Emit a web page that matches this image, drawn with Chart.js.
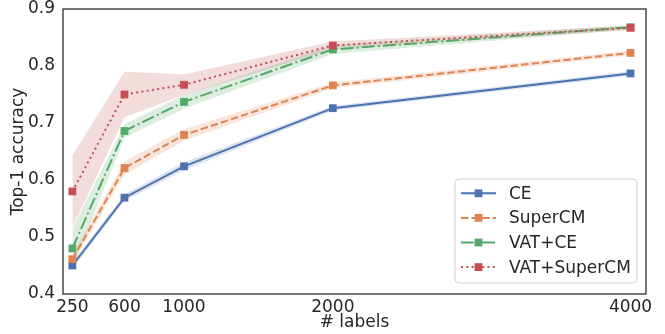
<!DOCTYPE html>
<html>
<head>
<meta charset="utf-8">
<script src="https://cdn.jsdelivr.net/npm/chart.js@4"></script>
<style>
  html, body { margin: 0; padding: 0; background: #fff; }
  #wrap { width: 665px; height: 334px; }
</style>
</head>
<body>
<div id="wrap"><canvas id="myChart" width="665" height="334"></canvas></div>
<script>
// datos
const labelsCount = [250, 600, 1000, 2000, 4000];
const xTicks = [250, 600, 1000, 2000, 4000];
const yTicks = [0.4, 0.5, 0.6, 0.7, 0.8, 0.9];

const seriesNames = ['CE', 'SuperCM', 'VAT+CE', 'VAT+SuperCM'];
const ceAcc = [0.450, 0.569, 0.624, 0.726, 0.787];
const superCmAcc = [0.461, 0.621, 0.679, 0.766, 0.823];
const vatCeAcc = [0.480, 0.686, 0.737, 0.829, 0.868];
const vatSuperCmAcc = [0.580, 0.750, 0.767, 0.836, 0.867];

// desviacion (media banda sombreada)
const ceStd = [0.006, 0.006, 0.007, 0.004, 0.004];
const superCmStd = [0.008, 0.012, 0.010, 0.005, 0.004];
const vatCeStd = [0.035, 0.012, 0.012, 0.008, 0.004];
const vatSuperCmStd = [0.063, 0.040, 0.018, 0.007, 0.004];

const means = [ceAcc, superCmAcc, vatCeAcc, vatSuperCmAcc];
const stds = [ceStd, superCmStd, vatCeStd, vatSuperCmStd];
const colors = ['#4C72B0', '#DD8452', '#55A868', '#C44E52'];
const bandColors = ['rgba(76,114,176,0.2)', 'rgba(221,132,82,0.2)', 'rgba(85,168,104,0.2)', 'rgba(196,78,82,0.2)'];
const dashes = [[], [7.4, 3.2], [12.8, 3.2, 2, 3.2], [2, 3.3]];

const TXT = '#262626';
const FONT = 'DejaVu Sans';
const FSIZE = 17;

const toPts = (ys) => labelsCount.map((x, i) => ({ x: x, y: ys[i] }));

const datasets = [];
// lineas principales
means.forEach((m, s) => {
    datasets.push({
        label: seriesNames[s],
        data: toPts(m),
        borderColor: colors[s],
        backgroundColor: colors[s],
        borderWidth: 2,
        borderDash: dashes[s],
        borderCapStyle: 'butt',
        pointStyle: 'rect',
        pointRadius: 5.5,
        pointBorderWidth: 0,
        pointBackgroundColor: colors[s],
        tension: 0,
        fill: false,
        order: 3 - s
    });
});
// bandas (superior + inferior)
means.forEach((m, s) => {
    const upIdx = datasets.length;
    datasets.push({
        label: '_up' + s,
        data: toPts(m.map((v, i) => v + stds[s][i])),
        borderWidth: 0,
        pointRadius: 0,
        backgroundColor: bandColors[s],
        fill: upIdx + 1,
        order: 10 + s
    });
    datasets.push({
        label: '_lo' + s,
        data: toPts(m.map((v, i) => v - stds[s][i])),
        borderWidth: 0,
        pointRadius: 0,
        backgroundColor: 'rgba(0,0,0,0)',
        fill: false,
        order: 10 + s
    });
});

// marco y leyenda dibujados a mano
const framePlugin = {
    id: 'frameLegend',
    afterDatasetsDraw(chart) {
        const { ctx, chartArea: a } = chart;
        ctx.save();
        ctx.strokeStyle = TXT;
        ctx.lineWidth = 1.25;
        ctx.strokeRect(a.left, a.top, a.right - a.left, a.bottom - a.top);
        ctx.restore();
    },
    afterDraw(chart) {
        const ctx = chart.ctx;
        ctx.save();
        const bx = 455, by = 179, bw = 182, bh = 104, r = 4;
        ctx.beginPath();
        ctx.roundRect(bx, by, bw, bh, r);
        ctx.fillStyle = 'rgba(255,255,255,0.8)';
        ctx.fill();
        ctx.strokeStyle = '#d0d0d0';
        ctx.lineWidth = 1;
        ctx.stroke();
        ctx.font = FSIZE + 'px "' + FONT + '"';
        ctx.textBaseline = 'middle';
        seriesNames.forEach((name, s) => {
            const y = 193.3 + s * 24.6;
            ctx.beginPath();
            ctx.setLineDash(dashes[s]);
            ctx.lineCap = 'butt';
            ctx.strokeStyle = colors[s];
            ctx.lineWidth = 2;
            ctx.moveTo(461, y);
            ctx.lineTo(496, y);
            ctx.stroke();
            ctx.setLineDash([]);
            ctx.fillStyle = colors[s];
            ctx.fillRect(478.5 - 3.9, y - 3.9, 7.8, 7.8);
            ctx.fillStyle = TXT;
            ctx.fillText(name, 509, y + 1);
        });
        ctx.restore();
    }
};

const ctx = document.getElementById('myChart').getContext('2d');
const myChart = new Chart(ctx, {
    type: 'line',
    data: { datasets: datasets },
    plugins: [framePlugin],
    options: {
        responsive: false,
        animation: false,
        layout: { padding: { top: 0, right: 19, left: 0, bottom: 0 } },
        plugins: {
            legend: { display: false },
            tooltip: { enabled: false },
            filler: { propagate: false }
        },
        scales: {
            x: {
                type: 'linear',
                min: 187,
                max: 4104,
                afterBuildTicks: (scale) => { scale.ticks = xTicks.map(v => ({ value: v })); },
                afterFit: (scale) => {
                    scale.height = 40;
                    scale.paddingLeft = 0;
                    scale.paddingRight = 0;
                },
                grid: { display: false, drawTicks: false },
                border: { display: false },
                ticks: {
                    autoSkip: false,
                    maxRotation: 0,
                    padding: 3,
                    color: TXT,
                    font: { family: FONT, size: FSIZE },
                    callback: (v) => String(v)
                },
                title: {
                    display: true,
                    text: '# labels',
                    color: TXT,
                    font: { family: FONT, size: FSIZE },
                    padding: { top: 0, bottom: 1 }
                }
            },
            y: {
                min: 0.4,
                max: 0.9,
                afterBuildTicks: (scale) => { scale.ticks = yTicks.map(v => ({ value: v })); },
                afterFit: (scale) => {
                    scale.width = 63;
                    scale.paddingTop = 9;
                    scale.paddingBottom = 0;
                },
                grid: { display: false, drawTicks: false },
                border: { display: false },
                ticks: {
                    padding: 8,
                    color: TXT,
                    font: { family: FONT, size: FSIZE },
                    callback: (v) => v.toFixed(1)
                },
                title: {
                    display: true,
                    text: 'Top-1 accuracy',
                    color: TXT,
                    font: { family: FONT, size: FSIZE },
                    padding: { top: 8.3, bottom: 0 }
                }
            }
        }
    }
});
</script>
</body>
</html>
